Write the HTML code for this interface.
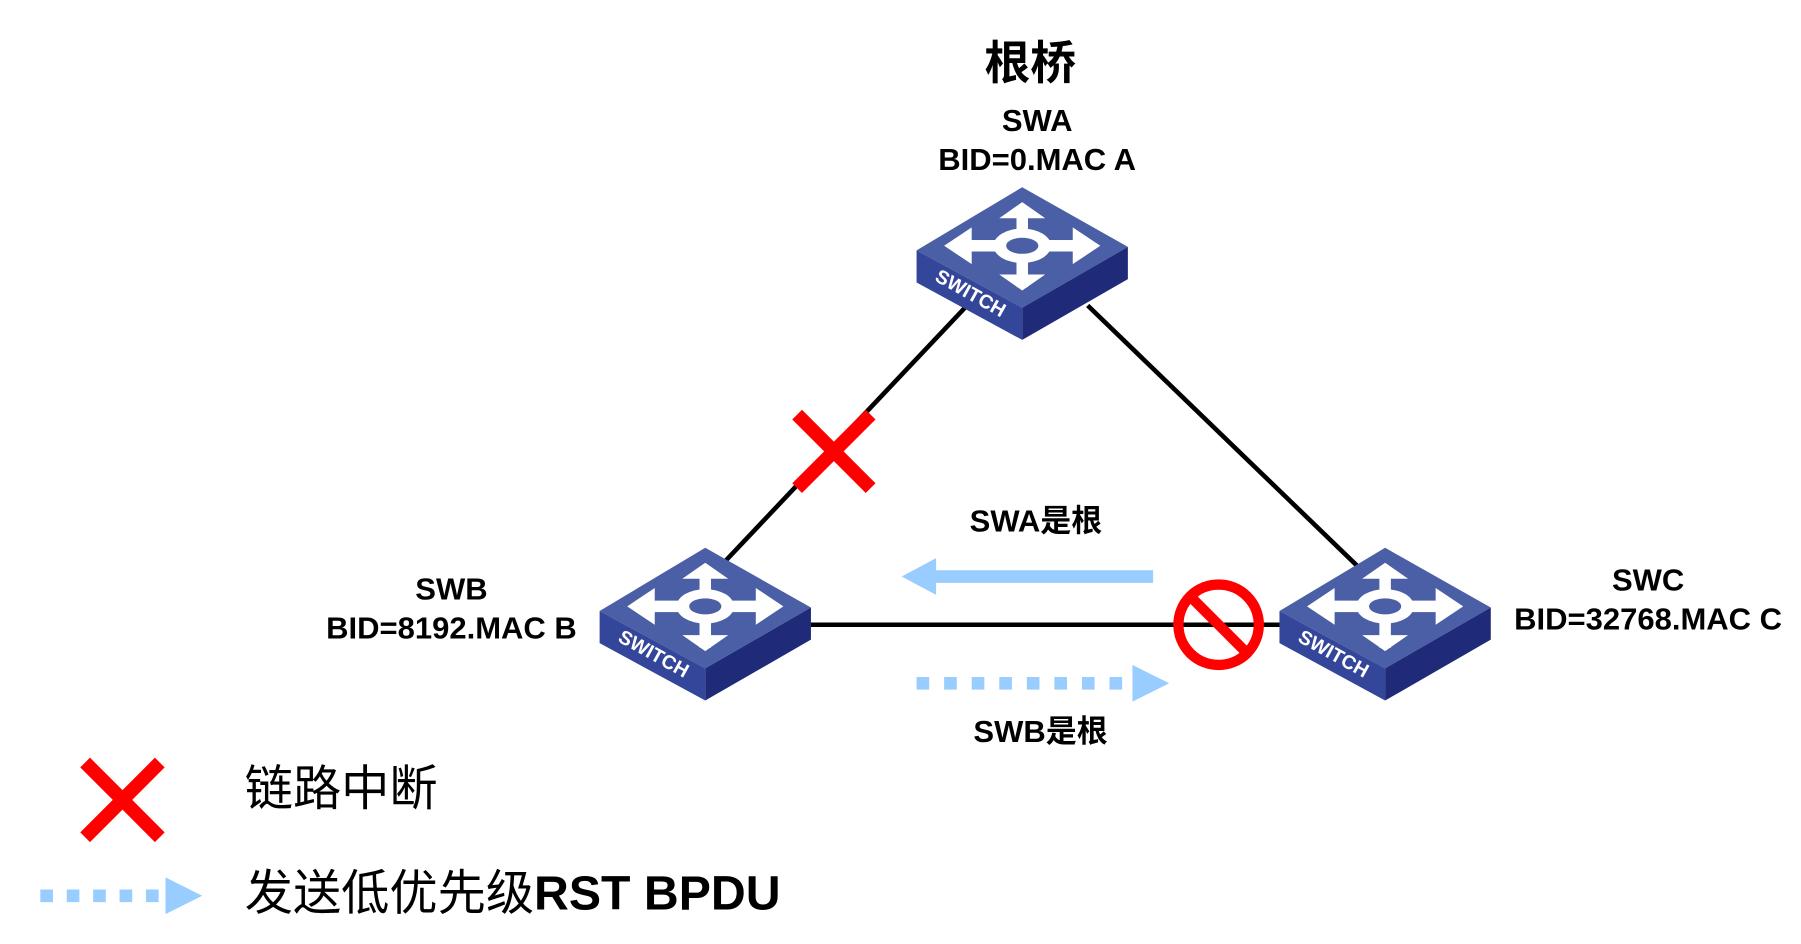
<!DOCTYPE html>
<html><head><meta charset="utf-8"><style>
html,body{margin:0;padding:0;background:#fff;}
svg{display:block;}
text{font-family:"Liberation Sans","Noto Sans CJK SC",sans-serif;font-weight:bold;fill:#000;}
</style></head><body>
<svg width="1801" height="944" viewBox="0 0 1568 822" xmlns="http://www.w3.org/2000/svg">
<defs>
<g id="sw">
  <polygon points="-92,2 0,-53 92,-1 0,52" fill="#4a5fa5"/>
  <polygon points="-92,2 0,52 0,80 -92,30" fill="#34469a"/>
  <polygon points="0,52 92,-1 92,27 0,80" fill="#1f2a78"/>
  <g fill="#fff">
    <ellipse cx="0" cy="-2" rx="25" ry="15"/>
    <rect x="-56" y="-7" width="112" height="10"/>
    <rect x="-5" y="-36" width="10" height="70"/>
    <polygon points="-68,-2 -44,-18 -44,14"/>
    <polygon points="68,-2 44,-18 44,14"/>
    <polygon points="0,-40 -20,-26 20,-26"/>
    <polygon points="0,37 -20,23 20,23"/>
  </g>
  <ellipse cx="0" cy="-2" rx="14" ry="7" fill="#4a5fa5"/>
  <text x="0" y="0" transform="translate(-77,28) rotate(29)" font-size="17" style="fill:#fff">SWITCH</text>
</g>
</defs>
<g stroke="#000" stroke-width="4">
  <line x1="842" y1="266" x2="632" y2="488"/>
  <line x1="947" y1="266" x2="1182" y2="493"/>
  <line x1="706" y1="544" x2="1114" y2="544"/>
</g>
<use href="#sw" x="890" y="216"/>
<use href="#sw" x="614" y="530"/>
<use href="#sw" x="1206" y="530"/>
<g stroke="#f00" stroke-width="12">
  <line x1="694" y1="361" x2="758" y2="425"/>
  <line x1="758" y1="361" x2="694" y2="425"/>
  <line x1="74" y1="664" x2="139" y2="729"/>
  <line x1="139" y1="664" x2="74" y2="729"/>
</g>
<circle cx="1061" cy="544" r="35" fill="none" stroke="#f00" stroke-width="9"/>
<line x1="1037" y1="520" x2="1085" y2="568" stroke="#f00" stroke-width="9"/>
<line x1="1004" y1="502" x2="810" y2="502" stroke="#99ccff" stroke-width="11"/>
<polygon points="785,502 815,486 815,518" fill="#99ccff"/>
<line x1="798" y1="595" x2="990" y2="595" stroke="#99ccff" stroke-width="11" stroke-dasharray="11,13"/>
<polygon points="1018,595 986,579 986,611" fill="#99ccff"/>
<line x1="35" y1="780" x2="145" y2="780" stroke="#99ccff" stroke-width="11" stroke-dasharray="11,12"/>
<polygon points="176,780 144,764 144,796" fill="#99ccff"/>
<g text-anchor="middle" font-size="27">
  <text x="897" y="69" font-size="40">根桥</text>
  <text x="903" y="114">SWA</text>
  <text x="903" y="148">BID=0.MAC A</text>
  <text x="393" y="522">SWB</text>
  <text x="393" y="556">BID=8192.MAC B</text>
  <text x="1435" y="514">SWC</text>
  <text x="1435" y="548">BID=32768.MAC C</text>
  <text x="902" y="463">SWA是根</text>
  <text x="906" y="646">SWB是根</text>
</g>
<text x="213" y="701" font-size="42" style="font-weight:normal">链路中断</text>
<text x="213" y="792" font-size="42"><tspan style="font-weight:normal">发送低优先级</tspan>RST BPDU</text>
</svg>
</body></html>
